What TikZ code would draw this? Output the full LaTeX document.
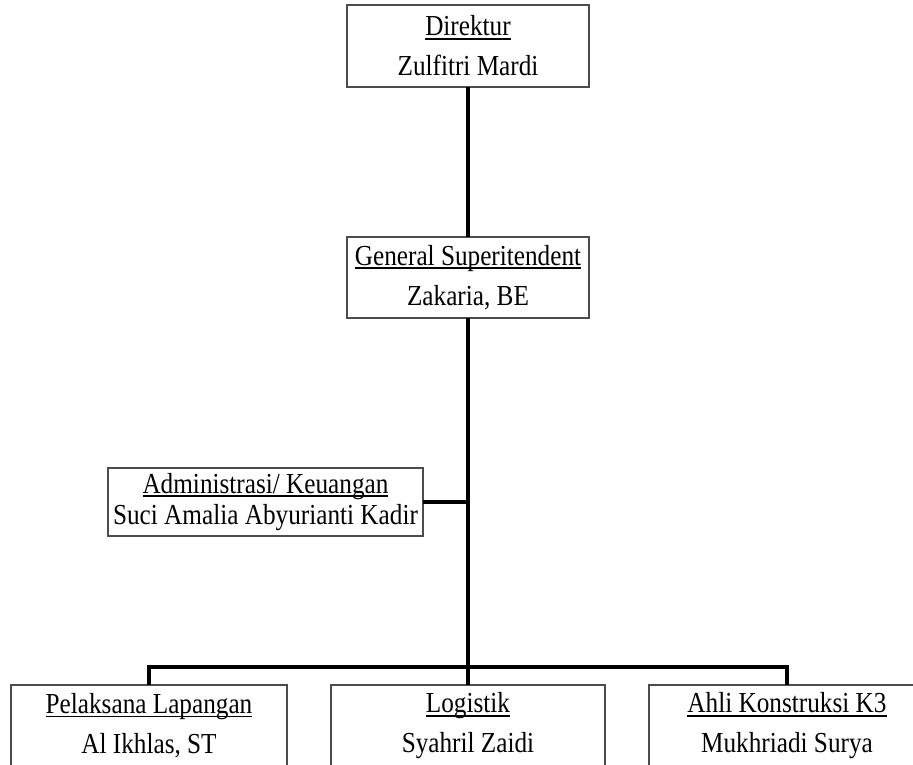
\documentclass[tikz,border=0pt]{standalone}
\usepackage{fontspec}
\setmainfont[FakeStretch=0.87]{Liberation Serif}
\colorlet{post border color}{black!70}
\newcommand{\posttitle}[1]{\setbox0\hbox{#1}\leavevmode\rlap{\rule[-3.6pt]{\wd0}{1.8pt}}\box0}
\tikzset{
    x={1pt},
    y={-1pt},
    post box/.style={
        draw=post border color,
        line width={1.4pt},
        align=center,
        inner sep=0pt,
        outer sep=0pt,
        minimum height={82},
        font={\fontsize{29}{40}\selectfont},
    },
    chart line/.style={
        draw=black,
        line width={4pt},
    },
}

\begin{document}
\begin{tikzpicture}
% page
\clip (0,0) rectangle (913,764);
\path[fill=white] (0,0) rectangle (913,764);
% posts
\node[post box, minimum width={242}] (dir) at (468,46) {\posttitle{Direktur}\\Zulfitri Mardi};
\node[post box, minimum width={242}, minimum height={81}] (gs) at (468,277.5) {\posttitle{General Superitendent}\\Zakaria, BE};
\node[post box, minimum width={315}, minimum height={68},
    font={\fontsize{29}{31}\selectfont}] (adm) at (265.5,502) {\posttitle{Administrasi/ Keuangan}\\Suci Amalia Abyurianti Kadir};
\node[post box, minimum width={276}] (pl) at (149,726) {\posttitle{Pelaksana Lapangan}\\Al Ikhlas, ST};
\node[post box, minimum width={274}] (lg) at (468,726) {\posttitle{Logistik}\\Syahril Zaidi};
\node[post box, minimum width={276}] (ak) at (787,726) {\posttitle{Ahli Konstruksi K3}\\Mukhriadi Surya};
% lines
\coordinate (bar) at (468,667);
\path[chart line] (dir.south) -- (gs.north);
\path[chart line] (gs.south) -- (lg.north);
\path[chart line] (adm.east) -- (adm.east -| gs.south);
\path[chart line] (pl.north) |- (bar) -| (ak.north);
\end{tikzpicture}
\end{document}
